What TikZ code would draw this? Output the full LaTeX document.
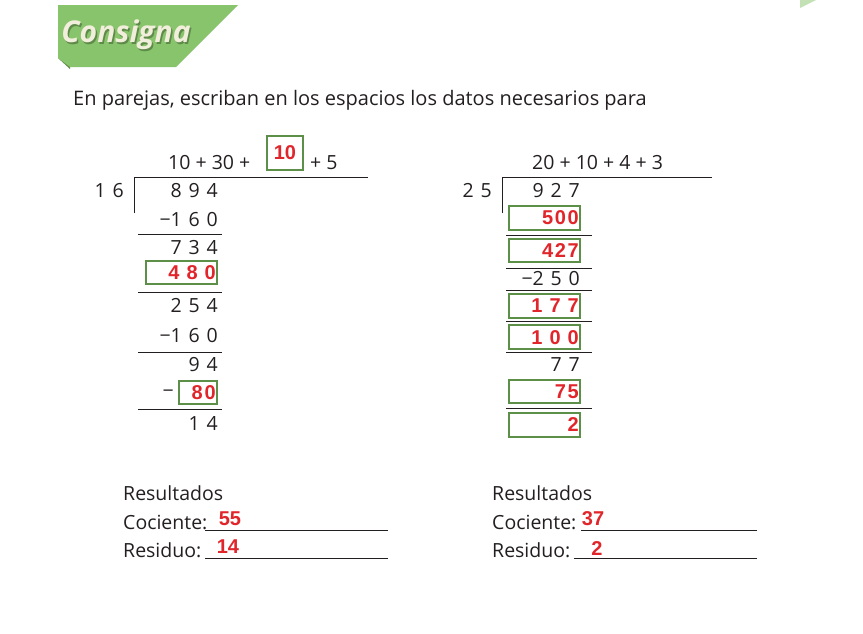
\documentclass[tikz,border=0pt]{standalone}
\usepackage{fontspec}
\setmainfont{Open Sans}
\newfontfamily\redf{Liberation Sans}
\definecolor{bgreen}{HTML}{88C46C}
\definecolor{dgreen}{HTML}{5E8A4A}
\definecolor{boxg}{HTML}{5C8F47}
\definecolor{rred}{HTML}{E0252B}
\definecolor{txt}{HTML}{231F20}
\definecolor{cream}{HTML}{F2EEDC}
\newcommand{\dsp}{\hspace{0.35em}}
\begin{document}
\begin{tikzpicture}[x=1pt,y=-1pt,
  num/.style={font=\fontsize{19.5}{21}\selectfont, text=txt, inner sep=0pt, anchor=east},
  lab/.style={font=\fontsize{19.5}{21}\selectfont, text=txt, inner sep=0pt, anchor=west},
  red/.style={font=\redf\bfseries\fontsize{20}{22}\selectfont, text=rred, inner sep=0pt},
  gbox/.style={draw=boxg, line width=1.4pt},
  rule/.style={draw=txt, line width=0.6pt}]
\useasboundingbox (0,0) rectangle (863,633);
% banner
\fill[dgreen] (58,58) -- (70,58) -- (70,69) -- cycle;
\fill[bgreen] (58,5) -- (238,5) -- (176,67) -- (70,67) -- (58,58) -- cycle;
\node[font=\fontsize{30}{32}\selectfont\itshape\bfseries, text=dgreen, inner sep=0pt] at (127.5,36.5) {Consigna};
\node[font=\fontsize{30}{32}\selectfont\itshape\bfseries, text=cream, inner sep=0pt] (ban) at (126,35) {Consigna};
\fill[bgreen!50] (800,0) -- (816,0) -- (800,8) -- cycle;
\node[lab, font=\fontsize{20}{22}\selectfont] (intro) at (73,100) {En parejas, escriban en los espacios los datos necesarios para};
% left division
\node[lab] (q1) at (168,163) {10 + 30 +};
\draw[gbox] (267,136) rectangle (303,170);
\node[red] (q1b) at (285,153) {10};
\node[lab] (q1c) at (310,163) {+ 5};
\draw[rule] (134,177) -- (368,177);
\draw[rule] (134,177) -- (134,213);
\node[num] (d1) at (124,191) {1\dsp6};
\node[num] (a1) at (218,191) {8\dsp9\dsp4};
\node[num] (a2) at (218,220) {−1\dsp6\dsp0};
\draw[rule] (138,234) -- (222,234);
\node[num] (a3) at (218,248) {7\dsp3\dsp4};
\draw[gbox] (146,261) rectangle (217,284);
\node[red, anchor=east] (a4) at (216,273) {4\dsp8\dsp0};
\draw[rule] (138,292) -- (222,292);
\node[num] (a5) at (218,306) {2\dsp5\dsp4};
\node[num] (a6) at (218,336) {−1\dsp6\dsp0};
\draw[rule] (138,352) -- (222,352);
\node[num] (a7) at (218,365) {9\dsp4};
\node[num] (a8m) at (174,394) {−};
\draw[gbox] (179,381) rectangle (217,404);
\node[red, anchor=east] (a8) at (216,393) {8\hspace{0.1em}0};
\draw[rule] (138,409) -- (222,409);
\node[num] (a9) at (218,423) {1\dsp4};
% right division
\node[lab] (q2) at (532,163) {20 + 10 + 4 + 3};
\draw[rule] (502,177) -- (712,177);
\draw[rule] (502,177) -- (502,213);
\node[num] (d2) at (492,191) {2\dsp5};
\node[num] (b1) at (580,191) {9\dsp2\dsp7};
\draw[gbox] (509,206) rectangle (580,230);
\node[red, anchor=east] (b2) at (579,218) {5\hspace{0.08em}0\hspace{0.08em}0};
\draw[rule] (506,235) -- (592,235);
\draw[gbox] (509,239) rectangle (580,262);
\node[red, anchor=east] (b3) at (579,251) {4\hspace{0.08em}2\hspace{0.08em}7};
\draw[rule] (506,268) -- (592,268);
\node[num] (b4) at (580,279) {−2\dsp5\dsp0};
\draw[rule] (506,290) -- (592,290);
\draw[gbox] (509,294) rectangle (580,318);
\node[red, anchor=east] (b5) at (579,306) {1\dsp7\dsp7};
\draw[rule] (506,321) -- (592,321);
\draw[gbox] (509,325) rectangle (580,349);
\node[red, anchor=east] (b6) at (579,338) {1\dsp0\dsp0};
\draw[rule] (506,352) -- (592,352);
\node[num] (b7) at (580,365) {7\dsp7};
\draw[gbox] (509,380) rectangle (580,403);
\node[red, anchor=east] (b8) at (579,392) {7\hspace{0.08em}5};
\draw[rule] (506,408) -- (592,408);
\draw[gbox] (509,413) rectangle (580,437);
\node[red, anchor=east] (b9) at (579,425) {2};
% results
\node[lab] (r1) at (123,493) {Resultados};
\node[lab] (r2) at (123,522) {Cociente:};
\draw[rule] (205,530) -- (388,530);
\node[red] (r2v) at (230,519) {55};
\node[lab] (r3) at (123,550) {Residuo:};
\draw[rule] (205,558) -- (388,558);
\node[red] (r3v) at (228,547) {14};
\node[lab] (s1) at (492,493) {Resultados};
\node[lab] (s2) at (492,522) {Cociente:};
\draw[rule] (581,530) -- (757,530);
\node[red] (s2v) at (593,519) {37};
\node[lab] (s3) at (492,550) {Residuo:};
\draw[rule] (574,558) -- (757,558);
\node[red] (s3v) at (597,549) {2};
\end{tikzpicture}
\end{document}
